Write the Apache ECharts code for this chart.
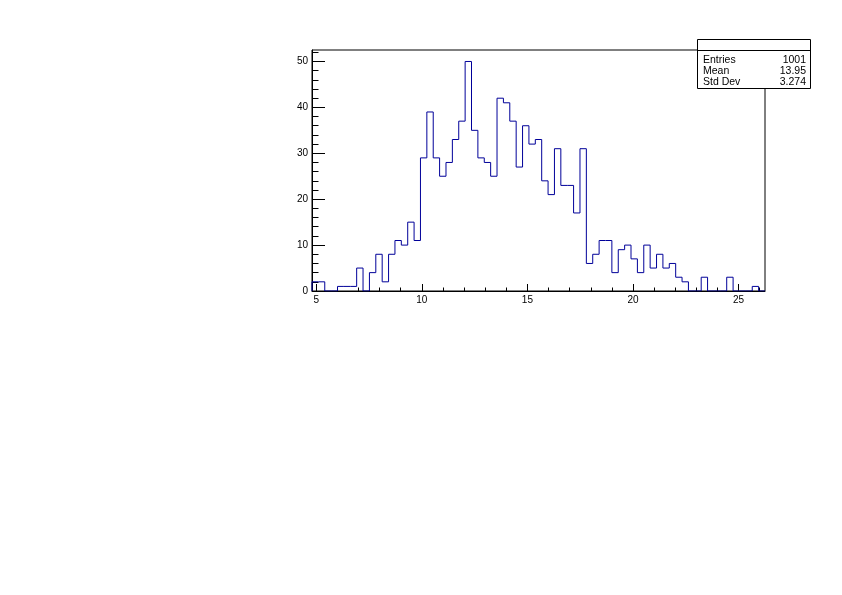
<!DOCTYPE html>
<html>
<head>
<meta charset="utf-8">
<script src="https://cdn.jsdelivr.net/npm/echarts@6/dist/echarts.min.js"></script>
<style>
html,body{margin:0;padding:0;background:#fff;}
#chart{width:842px;height:595px;}
</style>
</head>
<body>
<div id="chart"></div>
<script>
// Histogram definition
const xMin = 4.8;
const xMax = 26.25;
const counts = [2,2,0,0,1,1,1,5,0,4,
  8,2,8,11,10,15,11,29,39,29,
  25,28,33,37,50,35,29,28,25,42,
  41,37,27,36,32,33,24,21,31,23,
  23,17,31,6,8,11,11,4,9,10,
  7,4,10,5,8,5,6,3,2,0,
  0,3,0,0,0,3,0,0,0,1,0];
const yMax = 52.5;
// Tick labels
const xMajorTicks = [5,10,15,20,25];
const xMinorTicks = [5,6,7,8,9,10,11,12,13,14,15,16,17,18,19,20,21,22,23,24,25,26];
const yMajorTicks = [0,10,20,30,40,50];
const yMinorTicks = [0,2,4,6,8,10,12,14,16,18,20,22,24,26,28,30,32,34,36,38,40,42,44,46,48,50,52];
// Stats box
const statsLabels = ['Entries','Mean','Std Dev'];
const statsValues = ['1001','13.95','3.274'];

const binWidth = (xMax - xMin) / counts.length;
const stepData = [[xMin, 0]];
counts.forEach((c, i) => {
  const lo = xMin + i * binWidth;
  const hi = xMin + (i + 1) * binWidth;
  stepData.push([lo, c]);
  stepData.push([hi, c]);
});
stepData.push([xMax, 0]);

const FONT = 'Liberation Sans, Arial, sans-serif';
const chart = echarts.init(document.getElementById('chart'), null, {renderer: 'canvas'});

const statsGraphics = [];
const boxX = 697, boxY = 39, boxW = 113, boxH = 49;
statsGraphics.push({type:'rect', shape:{x:boxX+0.5, y:boxY+0.5, width:boxW, height:boxH},
  style:{fill:'#fff', stroke:'#000', lineWidth:1}, z:100});
statsGraphics.push({type:'line', shape:{x1:boxX+0.5, y1:boxY+11.5, x2:boxX+boxW+0.5, y2:boxY+11.5},
  style:{stroke:'#000', lineWidth:1}, z:101});
statsLabels.forEach((lab, i) => {
  statsGraphics.push({type:'text', x:boxX+6, y:boxY+21+i*11,
    style:{text:lab, font:'10.5px ' + FONT, fill:'#000', textAlign:'left', textVerticalAlign:'middle'}, z:102});
  statsGraphics.push({type:'text', x:boxX+boxW-4, y:boxY+21+i*11,
    style:{text:statsValues[i], font:'10.5px ' + FONT, fill:'#000', textAlign:'right', textVerticalAlign:'middle'}, z:102});
});

chart.setOption({
  animation: false,
  backgroundColor: '#fff',
  grid: {left: 312, top: 50, width: 453, height: 241, show: true, borderColor: '#000', borderWidth: 1, backgroundColor: 'transparent', containLabel: false},
  xAxis: [
    {type:'value', min:xMin, max:xMax, position:'bottom',
     axisLine:{show:true, onZero:false, lineStyle:{color:'#000', width:1}},
     axisTick:{show:true, inside:true, length:7, customValues:xMajorTicks, lineStyle:{color:'#000', width:1}},
     axisLabel:{show:true, customValues:xMajorTicks, margin:4, fontSize:10, fontFamily:FONT, color:'#000'},
     splitLine:{show:false}},
    {type:'value', min:xMin, max:xMax, position:'bottom',
     axisLine:{show:false, onZero:false},
     axisTick:{show:true, inside:true, length:3.5, customValues:xMinorTicks, lineStyle:{color:'#000', width:1}},
     axisLabel:{show:false},
     splitLine:{show:false}}
  ],
  yAxis: [
    {type:'value', min:0, max:yMax, position:'left',
     axisLine:{show:true, onZero:false, lineStyle:{color:'#000', width:1}},
     axisTick:{show:true, inside:true, length:13, customValues:yMajorTicks, lineStyle:{color:'#000', width:1}},
     axisLabel:{show:true, customValues:yMajorTicks, margin:4, fontSize:10, fontFamily:FONT, color:'#000'},
     splitLine:{show:false}},
    {type:'value', min:0, max:yMax, position:'left',
     axisLine:{show:false, onZero:false},
     axisTick:{show:true, inside:true, length:6.5, customValues:yMinorTicks, lineStyle:{color:'#000', width:1}},
     axisLabel:{show:false},
     splitLine:{show:false}}
  ],
  series: [{
    type:'line', xAxisIndex:0, yAxisIndex:0, data:stepData, showSymbol:false, symbol:'none',
    lineStyle:{color:'#000099', width:1}, silent:true, clip:true
  }],
  graphic: statsGraphics
});
</script>
</body>
</html>
